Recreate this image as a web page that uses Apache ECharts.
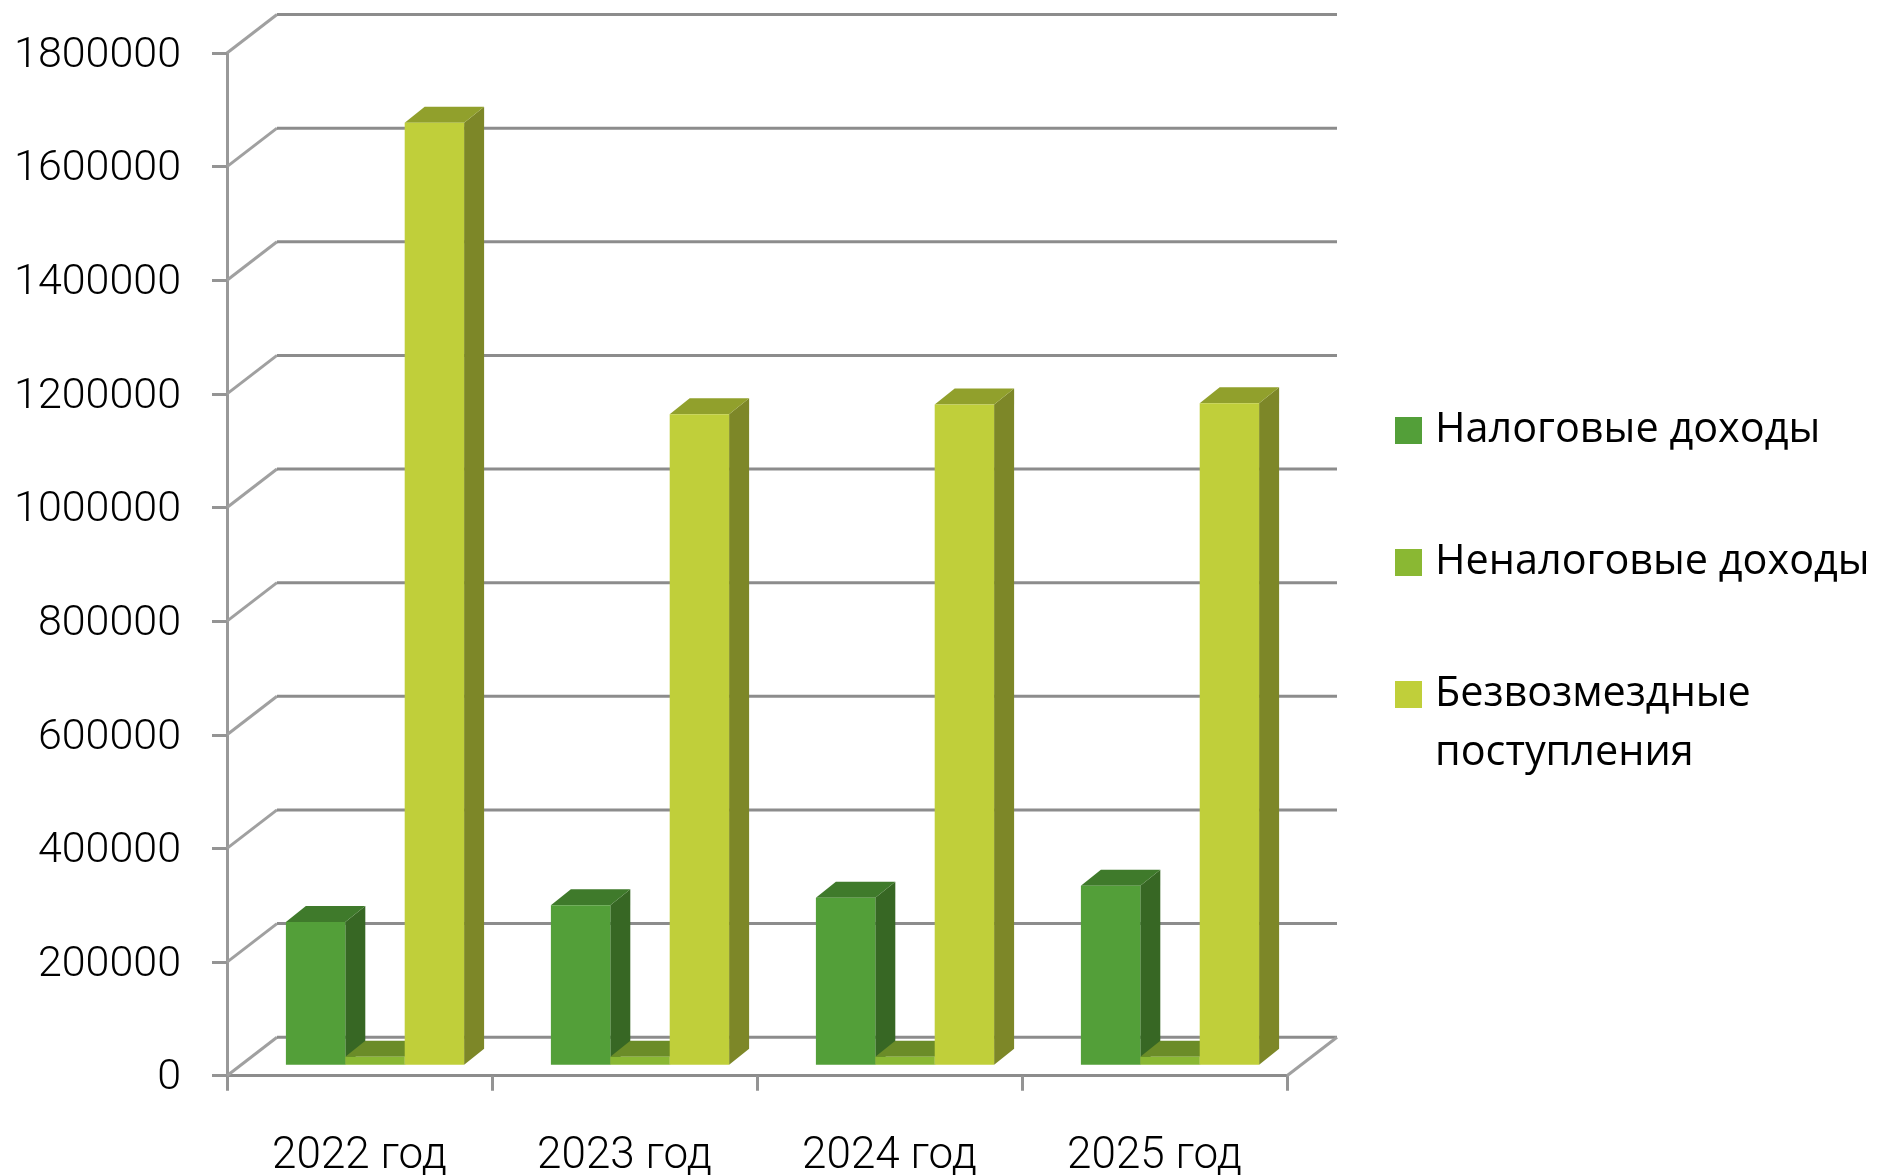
<!DOCTYPE html>
<html><head><meta charset="utf-8">
<style>html,body{margin:0;padding:0;background:#fff}#c{width:1877px;height:1175px}</style>
<script src="https://cdn.jsdelivr.net/npm/echarts@6/dist/echarts.min.js"></script>
</head><body><div id="c"></div>
<script>
const categories = ['2022 год','2023 год','2024 год','2025 год'];
const taxIncome = [251000, 280500, 294000, 315000];
const nonTaxIncome = [14000, 14000, 14000, 14000];
const grants = [1658000, 1145000, 1162000, 1164000];
const yTicks = [0,200000,400000,600000,800000,1000000,1200000,1400000,1600000,1800000];

const nameTax='Налоговые доходы', nameNon='Неналоговые доходы', nameGrant='Безвозмездные поступления';
const wall={dx:50,dy:-38.5}, barOff={dx:15.5,dy:-11}, barDepth={dx:20,dy:-16}, barW=59.4;
const gridColor='#8c8c8c', font='Roboto', legendFont='Open Sans';

function barSeries(name,data,idx,c){
  return {type:'custom',name,data:data.map((v,i)=>[i,v]),encode:{x:0,y:1},itemStyle:{color:c.front},
    renderItem(p,api){
      const top=api.coord([api.value(0),api.value(1)]), base=api.coord([api.value(0),0]);
      const x=top[0]+barOff.dx+(idx-1.5)*barW, yT=top[1]+barOff.dy, yB=base[1]+barOff.dy;
      const dx=barDepth.dx, dy=barDepth.dy, r=x+barW;
      const poly=(pts,fill)=>({type:'polygon',shape:{points:pts},style:{fill}});
      return {type:'group',children:[
        poly([[r,yT],[r+dx,yT+dy],[r+dx,yB+dy],[r,yB]],c.side),
        poly([[x,yT],[x+dx,yT+dy],[r+dx,yT+dy],[r,yT]],c.top),
        {type:'rect',shape:{x,y:yT,width:barW,height:yB-yT},style:{fill:c.front}}
      ]};
    }};
}
const gridSeries={type:'custom',name:'grid',silent:true,data:yTicks.map(v=>[0,v]),encode:{x:0,y:1},
  renderItem(p,api){
    const cs=p.coordSys, y=api.coord([0,api.value(1)])[1], l=cs.x, r=cs.x+cs.width;
    const line=(x1,y1,x2,y2,w,s)=>({type:'line',shape:{x1,y1,x2,y2},style:{stroke:s,lineWidth:w}});
    const kids=[
      line(l,y,l+wall.dx,y+wall.dy,3,'#a0a0a0'),
      line(l+wall.dx,y+wall.dy,r+wall.dx,y+wall.dy,3,gridColor)];
    if(api.value(1)===0) kids.push(line(r,y,r+wall.dx,y+wall.dy,3,'#a0a0a0'));
    return {type:'group',children:kids};
  }};
const legendBase={orient:'vertical',left:1395,padding:0,itemWidth:27,itemHeight:27,icon:'rect',selectedMode:false,
  textStyle:{fontFamily:legendFont,fontSize:41.4,color:'#000',lineHeight:59,padding:[0,0,0,8]},itemGap:0};

const chart=echarts.init(document.getElementById('c'),null,{renderer:'canvas'});
chart.setOption({
  animation:false,backgroundColor:'#fff',
  grid:{left:227,top:53,width:1060,height:1022.7,containLabel:false,outerBoundsMode:'none'},
  legend:[
    Object.assign({},legendBase,{top:401,data:[nameTax]}),
    Object.assign({},legendBase,{top:533,data:[nameNon]}),
    Object.assign({},legendBase,{top:606,data:[nameGrant],formatter:()=>'\nБезвозмездные\nпоступления'})
  ],
  xAxis:{type:'category',data:categories,boundaryGap:true,
    axisLine:{lineStyle:{color:gridColor,width:3}},
    axisTick:{show:true,length:15,alignWithLabel:false,lineStyle:{color:'#949494',width:3}},
    axisLabel:{fontFamily:font,fontWeight:300,fontSize:44,color:'#000',margin:59},splitLine:{show:false}},
  yAxis:{type:'value',min:0,max:1800000,interval:200000,
    axisLine:{show:true,lineStyle:{color:'#999',width:3}},
    axisTick:{show:true,length:15,lineStyle:{color:'#949494',width:3}},
    axisLabel:{fontFamily:font,fontWeight:300,fontSize:43,color:'#000',margin:46,verticalAlign:'top',lineHeight:6,formatter:v=>String(v)},splitLine:{show:false}},
  series:[gridSeries,
    barSeries(nameTax,taxIncome,0,{front:'#539f39',side:'#376724',top:'#3f7a2b'}),
    barSeries(nameNon,nonTaxIncome,1,{front:'#8ab833',side:'#5d7a22',top:'#6b8c28'}),
    barSeries(nameGrant,grants,2,{front:'#c0cf3a',side:'#7d8728',top:'#91a02c'})]
});
</script></body></html>
